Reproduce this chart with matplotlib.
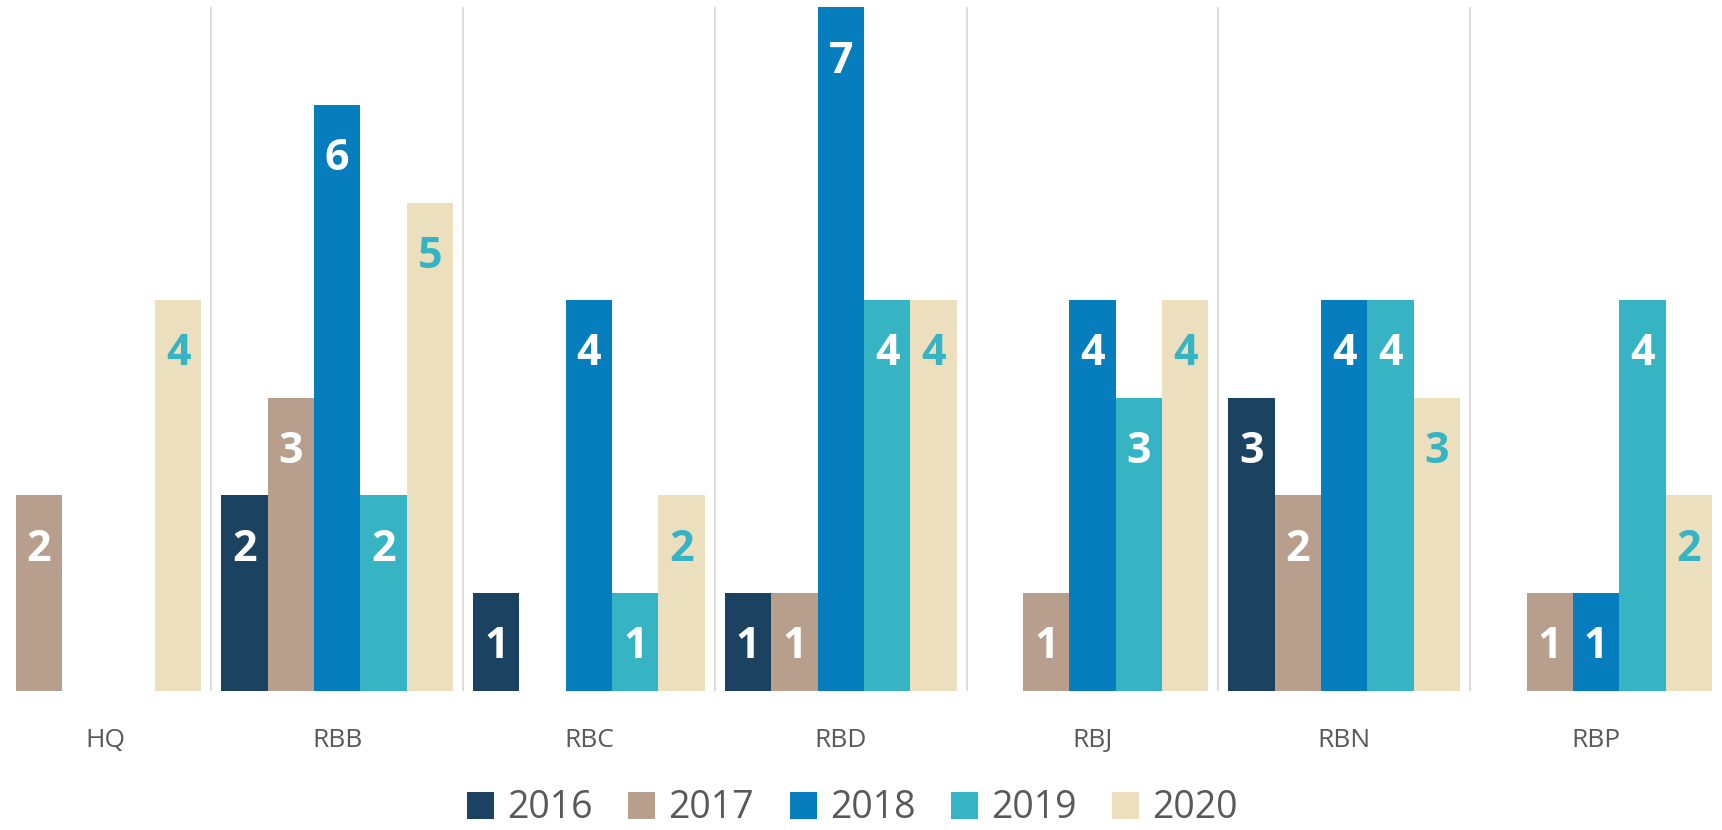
import matplotlib.pyplot as plt
import numpy as np

# Data
categories = ["HQ", "RBB", "RBC", "RBD", "RBJ", "RBN", "RBP"]
years = ["2016", "2017", "2018", "2019", "2020"]
v2016 = [0, 2, 1, 1, 0, 3, 0]
v2017 = [2, 3, 0, 1, 1, 2, 1]
v2018 = [0, 6, 4, 7, 4, 4, 1]
v2019 = [0, 2, 1, 4, 3, 4, 4]
v2020 = [4, 5, 2, 4, 4, 3, 2]
series = [v2016, v2017, v2018, v2019, v2020]

colors = ["#1c4262", "#b89e8c", "#067dbd", "#36b4c4", "#ebdfbe"]
label_colors = ["white", "white", "white", "white", "#36b4c4"]

plt.rcParams['font.family'] = ['Open Sans', 'DejaVu Sans']

fig = plt.figure(figsize=(17.22, 8.30), dpi=100)
ax = fig.add_axes([0.0, 0.168, 1.0, 0.823])

x = np.arange(len(categories))
w = 0.184
for k, vals in enumerate(series):
    pos = x + (k - 2) * w
    bars = ax.bar(pos, vals, w, color=colors[k], label=years[k], linewidth=0)
    for b, v in zip(bars, vals):
        if v > 0:
            ax.annotate(str(v), (b.get_x() + b.get_width() / 2, v),
                        xytext=(0, -35), textcoords='offset points',
                        ha='center', va='center_baseline', fontsize=31,
                        fontweight='bold', color=label_colors[k])

# group separators
for i in range(len(categories) - 1):
    ax.axvline(i + 0.5, color='#d9d9d9', lw=1.3, zorder=0)

xmin = -0.339
ax.set_xlim(xmin, len(categories) - 0.5)
ax.set_ylim(0, 7)

ticks = list(x.astype(float))
ticks[0] = (xmin + 0.5) / 2  # first group is cut at the left edge
ax.set_xticks(ticks)
ax.set_xticklabels(categories, fontsize=19, color='#595959')
ax.tick_params(axis='x', length=0, pad=27)
ax.set_yticks([])
for s in ax.spines.values():
    s.set_visible(False)

fig.legend(loc='center', bbox_to_anchor=(0.495, 0.026), ncol=5, frameon=False,
           fontsize=27, labelcolor='#595959', handlelength=0.72, handleheight=0.72,
           handletextpad=0.35, columnspacing=0.95, borderpad=0.1)

fig.savefig('out.png', dpi=100)
